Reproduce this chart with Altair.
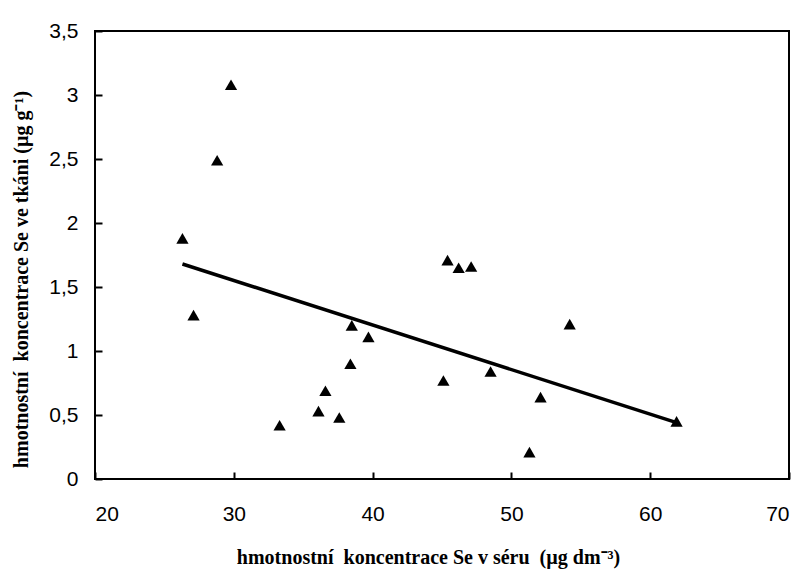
import altair as alt
import pandas as pd

# data
serum = [26.3, 27.1, 28.8, 29.8, 33.3, 36.1, 36.6, 37.6, 38.4, 38.5, 39.7,
         45.1, 45.4, 46.2, 47.1, 48.5, 51.3, 52.1, 54.2, 61.9]
tissue = [1.88, 1.28, 2.49, 3.08, 0.42, 0.53, 0.69, 0.48, 0.90, 1.20, 1.11,
          0.77, 1.71, 1.65, 1.66, 0.84, 0.21, 0.64, 1.21, 0.45]
fit_x = [26.3, 61.9]
fit_y = [1.68, 0.44]
x_ticks = [20, 30, 40, 50, 60, 70]
y_ticks = [0, 0.5, 1, 1.5, 2, 2.5, 3, 3.5]

pts = pd.DataFrame({"x": serum, "y": tissue})
fit = pd.DataFrame({"x": fit_x, "y": fit_y})

NB = "\u00a0"
label_expr = "replace(toString(datum.value), '.', ',')"
xscale = alt.Scale(domain=[20, 70], nice=False, zero=False)
yscale = alt.Scale(domain=[0, 3.5], nice=False)
inward = {"expr": "-7"}

xenc = alt.X("x:Q", scale=xscale,
             axis=alt.Axis(values=x_ticks,
                           title=f"hmotnostní{NB} koncentrace Se v séru{NB} (µg dm⁻³)",
                           labelExpr=label_expr, grid=False, domain=False,
                           ticks=True, tickSize=inward, tickWidth=2, tickColor="black",
                           labelPadding=31, labelFontSize=21, labelFont="Liberation Sans",
                           labelColor="black", titleFont="Liberation Serif",
                           titleFontWeight="bold", titleFontSize=20, titleColor="black",
                           titlePadding=23, titleX=333))
yenc = alt.Y("y:Q", scale=yscale,
             axis=alt.Axis(values=y_ticks,
                           title=f"hmotnostní{NB} koncentrace Se ve tkáni (µg g⁻¹)",
                           labelExpr=label_expr, grid=False, domain=False,
                           ticks=True, tickSize=inward, tickWidth=2, tickColor="black",
                           labelPadding=24, labelFontSize=21, labelFont="Liberation Sans",
                           labelColor="black", titleFont="Liberation Serif",
                           titleFontWeight="bold", titleFontSize=20, titleColor="black",
                           titlePadding=17, titleY=248))

points = alt.Chart(pts).mark_point(shape="triangle-up", filled=True, color="black",
                                   size=150, opacity=1).encode(x=xenc, y=yenc)
line = alt.Chart(fit).mark_line(color="black", strokeWidth=3.5).encode(x="x:Q", y="y:Q")

chart = (points + line).properties(
    width=694, height=448,
    autosize=alt.AutoSizeParams(type="none"),
    padding={"left": 95, "top": 31, "right": 14, "bottom": 97},
).configure(background="white").configure_view(stroke="black", strokeWidth=2)

chart.save("out.html", embed_options={"renderer": "svg", "actions": False})
